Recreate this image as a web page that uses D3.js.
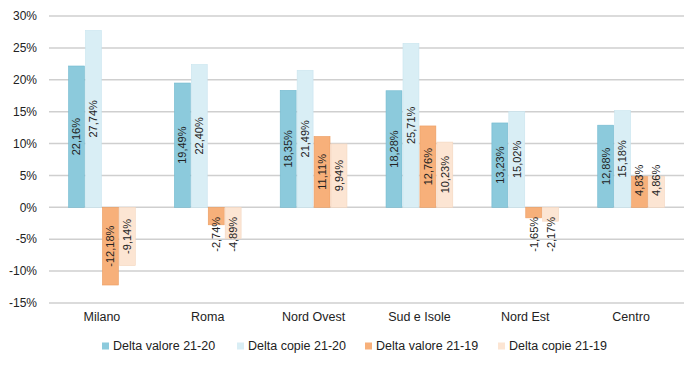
<!DOCTYPE html>
<html lang="it">
<head>
<meta charset="utf-8">
<script src="https://cdn.jsdelivr.net/npm/d3@7"></script>
<style>
  body { margin: 0; background: #fff; }
  text { font-family: "Liberation Sans", Arial, sans-serif; fill: #222; }
</style>
</head>
<body>
<div id="chart"></div>
<script>
// categories and series (percent)
var categories = ["Milano", "Roma", "Nord Ovest", "Sud e Isole", "Nord Est", "Centro"];
var seriesNames = ["Delta valore 21-20", "Delta copie 21-20", "Delta valore 21-19", "Delta copie 21-19"];
var valore2120 = [22.16, 19.49, 18.35, 18.28, 13.23, 12.88];
var copie2120  = [27.74, 22.40, 21.49, 25.71, 15.02, 15.18];
var valore2119 = [-12.18, -2.74, 11.11, 12.76, -1.65, 4.83];
var copie2119  = [-9.14, -4.89, 9.94, 10.23, -2.17, 4.86];
var yTicks = [30, 25, 20, 15, 10, 5, 0, -5, -10, -15];

var series = [valore2120, copie2120, valore2119, copie2119];
var colors = ["#8ccadc", "#d9eef5", "#f7b07a", "#fce5d3"];
var edges  = ["#72b9cf", "#c9e4ee", "#ec9c60", "#f4d6bf"];

var W = 700, H = 369;
var margin = {top: 16, right: 16, bottom: 66, left: 49};
var width = W - margin.left - margin.right,
    height = H - margin.top - margin.bottom;

var svg = d3.select("#chart").append("svg")
    .attr("width", W).attr("height", H)
  .append("g")
    .attr("transform", "translate(" + margin.left + "," + margin.top + ")");

var x = d3.scaleBand().domain(categories).range([0, width]).paddingInner(0.36).paddingOuter(0.18);
var xs = d3.scaleBand().domain(d3.range(4)).range([0, x.bandwidth()]);
var y = d3.scaleLinear().domain([-15, 30]).range([height, 0]);

// gridlines
svg.append("g").selectAll("line").data(yTicks).enter().append("line")
    .attr("x1", 0).attr("x2", width)
    .attr("y1", function(d) { return y(d); }).attr("y2", function(d) { return y(d); })
    .attr("stroke", "#cfcfcf").attr("stroke-width", 1.5);

// y axis labels
svg.append("g").selectAll("text").data(yTicks).enter().append("text")
    .attr("x", -12).attr("y", function(d) { return y(d); })
    .attr("dy", "0.35em").attr("text-anchor", "end")
    .style("font-size", "12px")
    .text(function(d) { return d + "%"; });

// bars
var fmt = function(v) { return v.toFixed(2).replace(".", ",") + "%"; };
var data = [];
categories.forEach(function(c, i) {
  series.forEach(function(s, j) { data.push({cat: c, s: j, v: s[i]}); });
});

var bars = svg.append("g").selectAll("g").data(data).enter().append("g")
    .attr("transform", function(d) { return "translate(" + (x(d.cat) + xs(d.s)) + ",0)"; });

bars.append("rect")
    .attr("x", 0.5)
    .attr("width", xs.bandwidth() - 1)
    .attr("y", function(d) { return y(Math.max(0, d.v)); })
    .attr("height", function(d) { return Math.abs(y(d.v) - y(0)); })
    .attr("fill", function(d) { return colors[d.s]; })
    .attr("stroke", function(d) { return edges[d.s]; })
    .attr("stroke-width", 0.6);

// labels, rotated, centered in bar or pushed outward when bar is short
bars.append("text")
    .attr("transform", function(d) {
      var len = Math.abs(y(d.v) - y(0));
      var tl = 38;
      var c;
      if (len > tl + 4) c = (y(d.v) + y(0)) / 2;
      else c = d.v >= 0 ? y(0) - 8 - tl / 2 : y(0) + 8 + tl / 2;
      return "translate(" + (xs.bandwidth() / 2) + "," + c + ") rotate(-90)";
    })
    .attr("text-anchor", "middle").attr("dy", "0.35em")
    .style("font-size", "11px")
    .text(function(d) { return fmt(d.v); });

// category labels
svg.append("g").selectAll("text").data(categories).enter().append("text")
    .attr("x", function(d) { return x(d) + x.bandwidth() / 2; })
    .attr("y", height + 14)
    .attr("dy", "0.35em").attr("text-anchor", "middle")
    .style("font-size", "12.5px")
    .text(function(d) { return d; });

// legend
var legendX = [102, 237, 365, 498];
var legend = svg.append("g").selectAll("g").data(seriesNames).enter().append("g")
    .attr("transform", function(d, i) { return "translate(" + (legendX[i] - margin.left) + "," + (346 - margin.top) + ")"; });
legend.append("rect").attr("x", 0).attr("y", -3.5).attr("width", 7).attr("height", 7)
    .attr("fill", function(d, i) { return colors[i]; });
legend.append("text").attr("x", 11).attr("y", 0).attr("dy", "0.35em")
    .style("font-size", "12.5px")
    .text(function(d) { return d; });
</script>
</body>
</html>
